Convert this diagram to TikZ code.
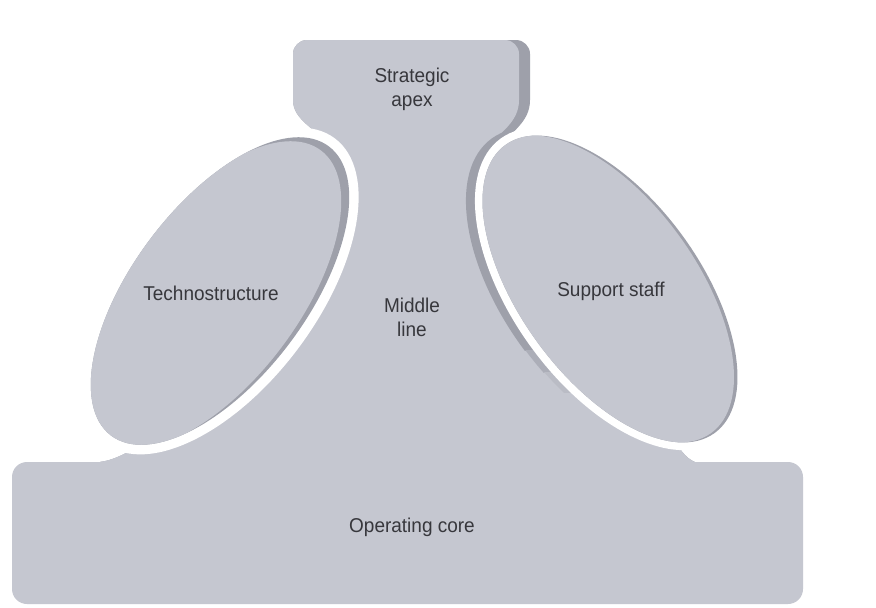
\documentclass[tikz,border=0pt]{standalone}
\usepackage{fontspec}
\setmainfont{Liberation Sans}[FakeStretch=0.95]
\definecolor{lightgray}{RGB}{197,199,208}
\definecolor{shadegray}{RGB}{158,160,170}
\definecolor{shadegrayB}{RGB}{172,174,184}
\definecolor{shadegrayC}{RGB}{186,188,197}
\definecolor{txtgray}{RGB}{55,55,60}
\newcommand\MidPath{(293,100) -- (293,54) .. controls (293,46.3) and (299.3,40) .. (307,40) -- (516,40) .. controls (523.7,40) and (530,46.3) .. (530,54) -- (530,100) .. controls (530,122) and (512,132) .. (492,152) -- (610,289) -- (670,430) .. controls (678,448) and (685,458) .. (695,462) -- (695,475) -- (100,475) -- (100,462) .. controls (115,460) and (130,452) .. (150,438) -- (220,291) -- (335,150) .. controls (315,128) and (293,120) .. (293,100) -- cycle}
\newcommand\TechE[2]{(220,291) ellipse [x radius=#1pt, y radius=#2pt]}
\newcommand\SuppE[2]{(610,289) ellipse [x radius=#1pt, y radius=#2pt]}
\begin{document}
\begin{tikzpicture}[x=1pt,y=-1pt,
  lbl/.style={text=txtgray, font=\fontsize{20}{24}\selectfont, align=center, inner sep=0pt},
  techrot/.style={rotate around={53:(220,291)}},
  supprot/.style={rotate around={-54:(610,289)}}]
\useasboundingbox (0,0) rectangle (876,608);
\fill[white] (0,0) rectangle (876,608);
% middle shape (apex + middle line)
\fill[shadegray] \MidPath;
\begin{scope}
  \clip \MidPath;
  \fill[lightgray, xshift=-11pt] \MidPath;
  \fill[lightgray] (0,200) rectangle (876,608);
\end{scope}
% operating core
\fill[lightgray, rounded corners=15pt] (12,462) rectangle (803,604);
% shadow along the neck's right side, fading out downwards
\begin{scope}
  \clip \MidPath;
  \begin{scope}
    \clip (0,0) rectangle (876,350);
    \fill[shadegray, xshift=-9pt, supprot] \SuppE{186}{98};
  \end{scope}
  \begin{scope}
    \clip (0,350) rectangle (876,372);
    \fill[shadegrayB, xshift=-8pt, supprot] \SuppE{186}{98};
  \end{scope}
  \begin{scope}
    \clip (0,372) rectangle (876,392);
    \fill[shadegrayC, xshift=-7pt, supprot] \SuppE{186}{98};
  \end{scope}
\end{scope}
% white gaps round the two ellipses
\fill[white, techrot] \TechE{191}{97};
\fill[white, supprot] \SuppE{186}{98};
% technostructure
\fill[shadegray, techrot] \TechE{181}{87};
\begin{scope}
  \clip[techrot] \TechE{181}{87};
  \fill[lightgray, xshift=-8pt, yshift=-4pt, techrot] \TechE{181}{87};
\end{scope}
% support staff
\fill[shadegray, supprot] \SuppE{178}{90};
\begin{scope}
  \clip[supprot] \SuppE{178}{90};
  \fill[lightgray, xshift=-3.5pt, supprot] \SuppE{178}{90};
\end{scope}
% labels
\node[lbl] (apex) at (412,89) {Strategic\\apex};
\node[lbl] (tech) at (211,293) {Technostructure};
\node[lbl] (mid) at (412,317) {Middle\\line};
\node[lbl] (supp) at (611,291) {Support staff};
\node[lbl] (core) at (412,527) {Operating core};
\end{tikzpicture}
\end{document}
